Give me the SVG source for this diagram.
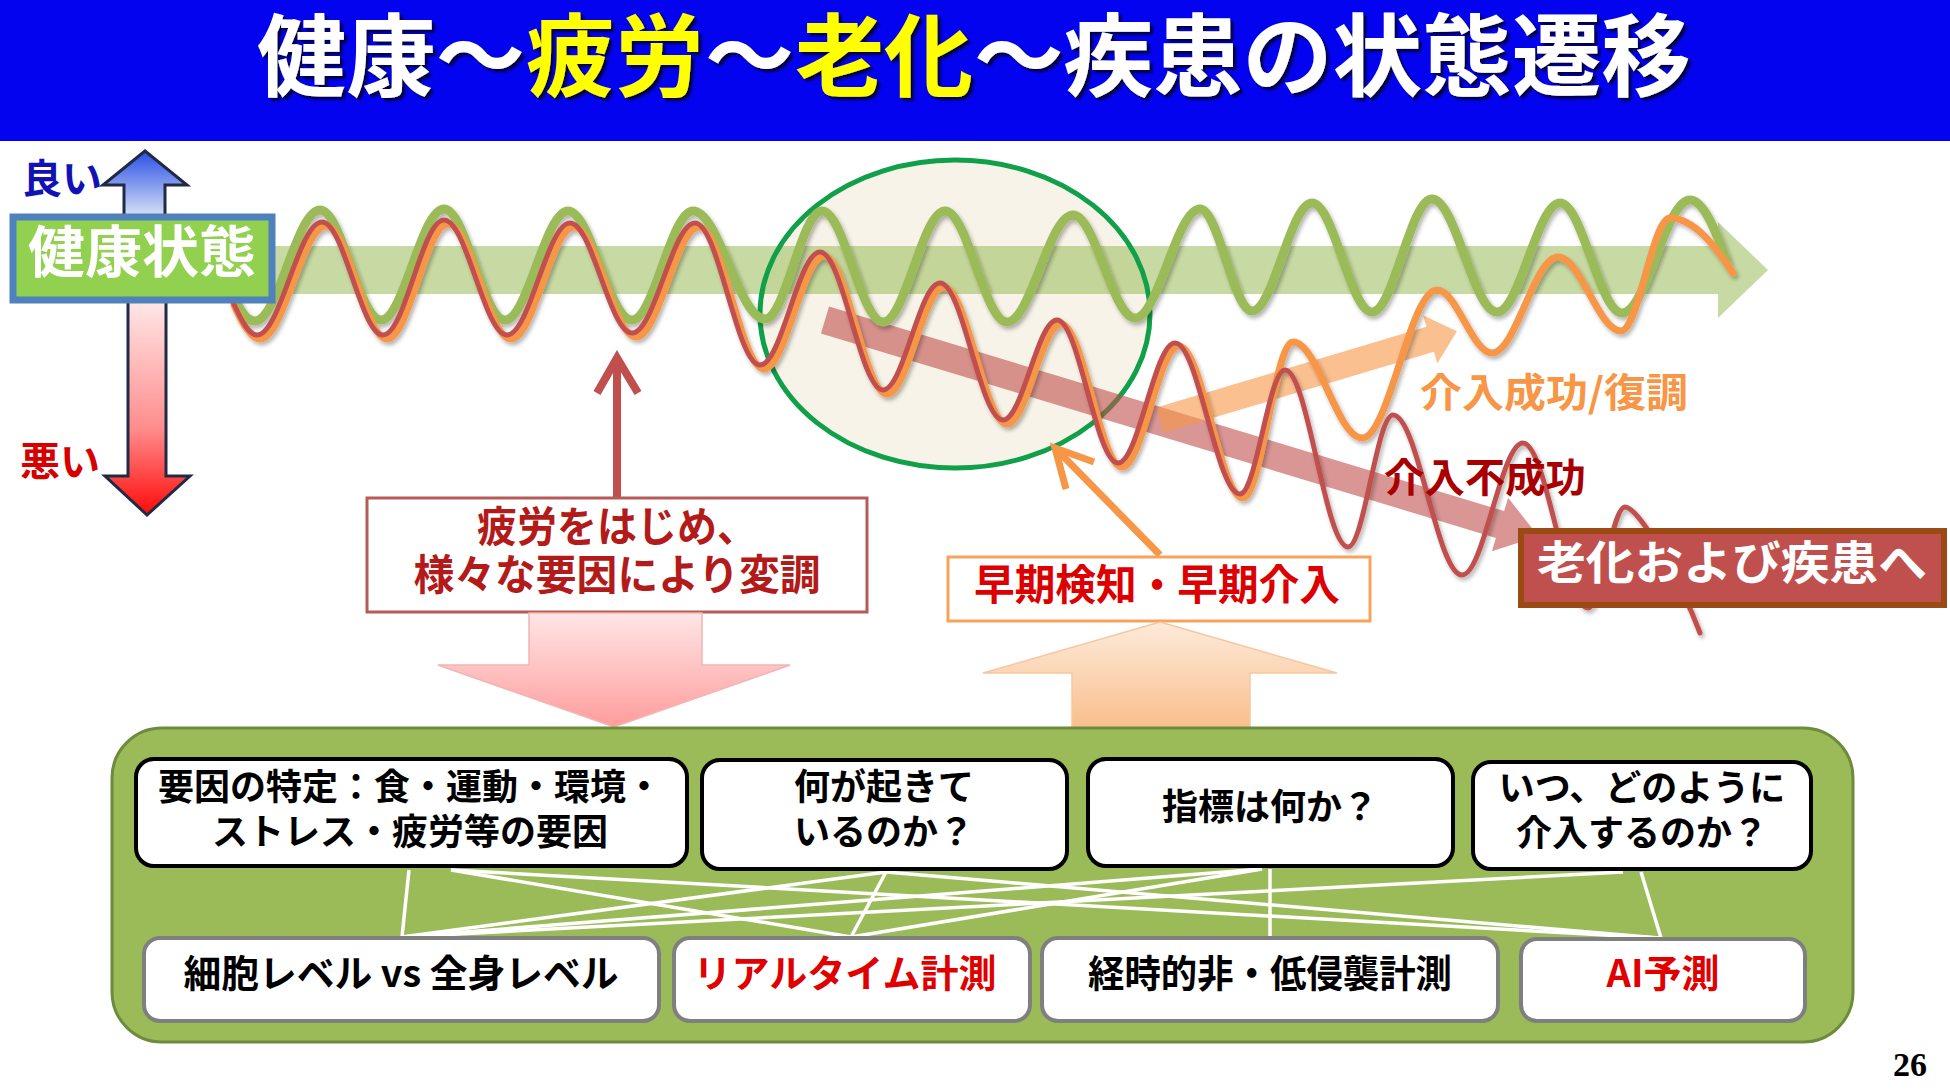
<svg xmlns="http://www.w3.org/2000/svg" width="1950" height="1089" viewBox="0 0 1950 1089">
<defs>
<style>
.jp{font-family:"Noto Sans CJK JP","Noto Sans CJK SC",sans-serif;font-weight:700}
.ttl{font-size:90px}
.wave{fill:none;stroke-linecap:round;stroke-linejoin:round}
.topbox{fill:#FFFFFF;stroke:#000000;stroke-width:4}
.botbox{fill:#FFFFFF;stroke:#7F7F7F;stroke-width:4}
.blk{fill:#000000;font-size:36px}
.bot{font-size:38px}
.wl{stroke:#FFFFFF;stroke-width:3.5;fill:none}
</style>
<linearGradient id="gBlue" x1="0" y1="0" x2="0" y2="1">
<stop offset="0" stop-color="#2A4FE6"/><stop offset="1" stop-color="#DCE6F4"/>
</linearGradient>
<linearGradient id="gRed" x1="0" y1="0" x2="0" y2="1">
<stop offset="0" stop-color="#FFE8E8"/><stop offset="0.6" stop-color="#FF8C8C"/><stop offset="1" stop-color="#FF0A0A"/>
</linearGradient>
<linearGradient id="gPink" x1="0" y1="0" x2="0" y2="1">
<stop offset="0" stop-color="#FFE6E6"/><stop offset="1" stop-color="#FF9C9C"/>
</linearGradient>
<linearGradient id="gPeach" x1="0" y1="0" x2="0" y2="1">
<stop offset="0" stop-color="#FDEBDB"/><stop offset="1" stop-color="#FABE8C"/>
</linearGradient>
<filter id="sh" x="-5%" y="-20%" width="110%" height="140%">
<feGaussianBlur in="SourceAlpha" stdDeviation="2"/>
<feOffset dx="2" dy="3" result="o"/>
<feComponentTransfer><feFuncA type="linear" slope="0.3"/></feComponentTransfer>
<feMerge><feMergeNode/><feMergeNode in="SourceGraphic"/></feMerge>
</filter>
<filter id="tsh" x="-5%" y="-20%" width="110%" height="150%">
<feGaussianBlur in="SourceAlpha" stdDeviation="1.5"/>
<feOffset dx="3" dy="3" result="o"/>
<feComponentTransfer><feFuncA type="linear" slope="0.75"/></feComponentTransfer>
<feMerge><feMergeNode/><feMergeNode in="SourceGraphic"/></feMerge>
</filter>
</defs>

<rect width="1950" height="1089" fill="#FFFFFF"/>

<g id="title">
<rect x="0" y="0" width="1950" height="141" fill="#0303F0"/>
<g filter="url(#tsh)">
<text class="jp ttl" x="257" y="89" fill="#FFFFFF" textLength="268" lengthAdjust="spacingAndGlyphs">健康～</text>
<text class="jp ttl" x="526" y="89" fill="#FFFF00" textLength="178" lengthAdjust="spacingAndGlyphs">疲労</text>
<text class="jp ttl" x="705" y="89" fill="#FFFFFF" textLength="89" lengthAdjust="spacingAndGlyphs">～</text>
<text class="jp ttl" x="795" y="89" fill="#FFFF00" textLength="178" lengthAdjust="spacingAndGlyphs">老化</text>
<text class="jp ttl" x="974" y="89" fill="#FFFFFF" textLength="717" lengthAdjust="spacingAndGlyphs">～疾患の状態遷移</text>
</g>
</g>

<g id="focus-ellipse-fill">
<ellipse cx="955" cy="314" rx="195" ry="154" fill="#F7F3E8"/>
</g>

<g id="health-band">
<polygon points="200,246 1718,246 1718,222 1768,270 1718,318 1718,294 200,294" fill="#9BBB59" opacity="0.55"/>
</g>

<g id="focus-ellipse">
<ellipse cx="955" cy="314" rx="195" ry="154" fill="none" stroke="#10A04A" stroke-width="5"/>
</g>

<g id="trend-arrows">
<polygon points="829.1,306.6 1504.1,511.1 1508.1,497.7 1538.3,536.1 1491.9,551.3 1495.9,537.9 820.9,333.4" fill="#C0504D" opacity="0.6"/>
<polygon points="1156.3,407.5 1426.5,326.8 1423,315.3 1457,331.3 1437.4,363.3 1433.9,351.8 1163.7,432.5" fill="#F79646" opacity="0.6"/>
</g>

<g id="waves" filter="url(#sh)">
<path class="wave" stroke="#9BBB59" stroke-width="9" d="M232,292 C241,313 247,321 255,321 C278.4,321 296.6,210 320,210 C342,210 359,320 381,320 C403.7,320 421.3,209 444,209 C466,209 483,320 505,320 C527.7,320 545.3,211 568,211 C591,211 609,320 632,320 C654,320 671,211 693,211 C719,211 739,319 765,319 C785.5,319 801.5,211 822,211 C844,211 861,322 883,322 C905.3,322 922.7,211 945,211 C967.3,211 984.7,322 1007,322 C1030.8,322 1049.2,215 1073,215 C1095.3,215 1112.7,318 1135,318 C1158.4,318 1176.6,209 1200,209 C1218.7,209 1233.3,311 1252,311 C1273.6,311 1290.4,203 1312,203 C1333.6,203 1350.4,312 1372,312 C1393.6,312 1410.4,199 1432,199 C1455.4,199 1473.6,312 1497,312 C1519.7,312 1537.3,203 1560,203 C1582.3,203 1599.7,313 1622,313 C1646.5,313 1665.5,200 1690,200 C1705,200 1718,238 1727,262"/>
<path class="wave" stroke="#F79646" stroke-width="7" d="M234,305 C244,327 252,339 260,339 C283.8,339 302.2,226 326,226 C348,226 365,339 387,339 C409,339 426,224 448,224 C470.7,224 488.3,339 511,339 C533.7,339 551.3,227 574,227 C596.3,227 613.7,337 636,337 C658.7,337 676.3,227 699,227 C722.4,227 740.6,369 764,369 C785.6,369 802.4,256 824,256 C846.7,256 864.3,394 887,394 C907.5,394 923.5,287 944,287 C966.7,287 984.3,424 1007,424 C1026.4,424 1041.6,324 1061,324 C1083,324 1100,467 1122,467 C1142.5,467 1158.5,346 1179,346 C1202,346 1220,498 1243,498 C1261,498 1275,342 1293,342 C1317.8,342 1337.2,438 1362,438 C1389,438 1410,290 1437,290 C1456.8,290 1472.2,353 1492,353 C1515.8,353 1534.2,257 1558,257 C1580.7,257 1598.3,331 1621,331 C1638.6,331 1652.4,218 1670,218 C1695,218 1718,250 1733,273"/>
<path class="wave" stroke="#C0504D" stroke-width="5" d="M232,300 C242,322 249,335 257,335 C280.4,335 298.6,222 322,222 C344,222 361,335 383,335 C405,335 422,220 444,220 C466.7,220 484.3,335 507,335 C529.7,335 547.3,223 570,223 C592.3,223 609.7,333 632,333 C654.7,333 672.3,223 695,223 C718.4,223 736.6,365 760,365 C781.6,365 798.4,252 820,252 C842.7,252 860.3,390 883,390 C903.5,390 919.5,283 940,283 C962.7,283 980.3,420 1003,420 C1022.4,420 1037.6,320 1057,320 C1079,320 1096,463 1118,463 C1138.5,463 1154.5,343 1175,343 C1198.4,343 1216.6,494 1240,494 C1256.2,494 1268.8,370 1285,370 C1307.7,370 1325.3,547 1348,547 C1364.2,547 1376.8,415 1393,415 C1417.8,415 1437.2,575 1462,575 C1484,575 1501,443 1523,443 C1546.4,443 1564.6,608 1588,608 C1601.3,608 1611.7,507 1625,507 C1640,507 1682,585 1700,633"/>
</g>

<g id="scale-arrows">
<polygon points="145,151 187,185 165,185 165,218 124,218 124,185 103,185" fill="url(#gBlue)" stroke="#1F2A44" stroke-width="3" stroke-linejoin="miter"/>
<polygon points="128,300 166,300 166,476 190,476 147,515 105,476 128,476" fill="url(#gRed)" stroke="#1F2A44" stroke-width="3" stroke-linejoin="miter"/>
<text class="jp" x="22" y="193" font-size="40" fill="#1212B4" textLength="80" lengthAdjust="spacingAndGlyphs">良い</text>
<text class="jp" x="20" y="476" font-size="40" fill="#D60000" textLength="80" lengthAdjust="spacingAndGlyphs">悪い</text>
</g>

<g id="node-health">
<rect x="13" y="217" width="259" height="83" fill="#92D050" stroke="#4F81BD" stroke-width="7"/>
<text class="jp" x="142" y="272" font-size="56" fill="#FFFFFF" text-anchor="middle" textLength="228" lengthAdjust="spacingAndGlyphs">健康状態</text>
</g>

<g id="connectors">
<g fill="none" stroke="#C0504D" stroke-width="8">
<line x1="617" y1="498" x2="617" y2="360"/>
<polyline points="597,393 617,358 638,393" stroke-linejoin="miter"/>
</g>
<g fill="none" stroke="#F79646" stroke-width="7">
<line x1="1160" y1="555" x2="1058" y2="451"/>
<polyline points="1066,489 1055,448 1094,462" stroke-linejoin="miter"/>
</g>
</g>

<g id="label-success">
<text class="jp" x="1420" y="407" font-size="40" fill="#F79646" textLength="268" lengthAdjust="spacingAndGlyphs">介入成功/復調</text>
</g>
<g id="label-fail">
<text class="jp" x="1384" y="492" font-size="40" fill="#A80000" textLength="202" lengthAdjust="spacingAndGlyphs">介入不成功</text>
</g>

<g id="node-aging">
<rect x="1521" y="531" width="423" height="74" fill="#C0504D" stroke="#9A4A12" stroke-width="6"/>
<text class="jp" x="1537" y="579" font-size="46" fill="#FFFFFF" textLength="390" lengthAdjust="spacingAndGlyphs">老化および疾患へ</text>
</g>

<g id="node-fatigue">
<rect x="367" y="498" width="500" height="114" fill="#FFFFFF" stroke="#B65B58" stroke-width="3"/>
<text class="jp" x="617" y="542" font-size="42" fill="#B31B1B" text-anchor="middle" textLength="280" lengthAdjust="spacingAndGlyphs">疲労をはじめ、</text>
<text class="jp" x="617" y="590" font-size="42" fill="#B31B1B" text-anchor="middle" textLength="407" lengthAdjust="spacingAndGlyphs">様々な要因により変調</text>
</g>

<g id="node-early">
<rect x="948" y="557" width="422" height="64" fill="#FFFFFF" stroke="#F7A35C" stroke-width="3"/>
<text class="jp" x="1157" y="600" font-size="42" fill="#DD0000" text-anchor="middle" textLength="366" lengthAdjust="spacingAndGlyphs">早期検知・早期介入</text>
</g>

<g id="block-arrows">
<polygon points="529,613 702,613 702,665 790,665 614,727 438,665 529,665" fill="url(#gPink)" stroke="#F2B4B4" stroke-width="1.5"/>
<polygon points="1160,622 1337,673 1250,673 1250,728 1072,728 1072,673 983,673" fill="url(#gPeach)" stroke="#F5C79E" stroke-width="1.5"/>
</g>

<g id="node-container">
<rect x="112" y="728" width="1741" height="314" rx="50" ry="50" fill="#9BBB59" stroke="#6E8B3D" stroke-width="3"/>
</g>

<g id="matrix-connectors" class="wl">
<line x1="409" y1="870" x2="402" y2="937"/>
<line x1="451" y1="870" x2="851" y2="937"/>
<line x1="451" y1="870" x2="1659" y2="938"/>
<line x1="886" y1="872" x2="402" y2="937"/>
<line x1="886" y1="872" x2="851" y2="937"/>
<line x1="886" y1="872" x2="1659" y2="938"/>
<line x1="1262" y1="869" x2="851" y2="937"/>
<line x1="1262" y1="869" x2="402" y2="937"/>
<line x1="1270" y1="869" x2="1270" y2="937"/>
<line x1="1623" y1="872" x2="402" y2="937"/>
<line x1="1641" y1="872" x2="1661" y2="938"/>
</g>

<g id="q-factors">
<rect class="topbox" x="136" y="759" width="551" height="107" rx="18"/>
<text class="jp blk" x="410" y="800" text-anchor="middle">要因の特定：食・運動・環境・</text>
<text class="jp blk" x="410" y="845" text-anchor="middle">ストレス・疲労等の要因</text>
</g>
<g id="q-what">
<rect class="topbox" x="702" y="760" width="365" height="109" rx="18"/>
<text class="jp blk" x="884" y="800" text-anchor="middle">何が起きて</text>
<text class="jp blk" x="884" y="845" text-anchor="middle">いるのか？</text>
</g>
<g id="q-index">
<rect class="topbox" x="1088" y="759" width="365" height="107" rx="18"/>
<text class="jp blk" x="1270" y="820" text-anchor="middle">指標は何か？</text>
</g>
<g id="q-when">
<rect class="topbox" x="1473" y="762" width="338" height="107" rx="18"/>
<text class="jp blk" x="1642" y="801" text-anchor="middle">いつ、どのように</text>
<text class="jp blk" x="1642" y="846" text-anchor="middle">介入するのか？</text>
</g>

<g id="m-cell">
<rect class="botbox" x="144" y="938" width="515" height="83" rx="16"/>
<text class="jp bot" x="401" y="987" text-anchor="middle" fill="#000000" textLength="435" lengthAdjust="spacingAndGlyphs">細胞レベル vs 全身レベル</text>
</g>
<g id="m-realtime">
<rect class="botbox" x="674" y="938" width="356" height="83" rx="16"/>
<text class="jp bot" x="845" y="987" text-anchor="middle" fill="#E00000">リアルタイム計測</text>
</g>
<g id="m-noninvasive">
<rect class="botbox" x="1042" y="938" width="456" height="83" rx="16"/>
<text class="jp bot" x="1270" y="987" text-anchor="middle" fill="#000000" textLength="364" lengthAdjust="spacingAndGlyphs">経時的非・低侵襲計測</text>
</g>
<g id="m-ai">
<rect class="botbox" x="1521" y="939" width="284" height="82" rx="16"/>
<text class="jp bot" x="1663" y="987" text-anchor="middle" fill="#E00000">AI予測</text>
</g>

<g id="page-number">
<text x="1927" y="1076" font-family="'Liberation Serif',serif" font-weight="700" font-size="34" text-anchor="end" fill="#000000">26</text>
</g>
</svg>
